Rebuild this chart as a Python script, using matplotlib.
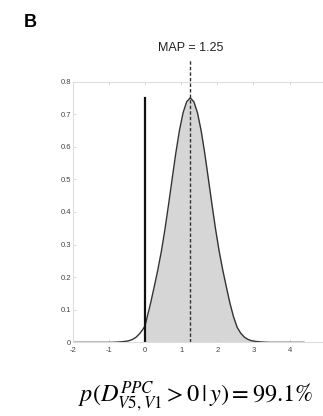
import numpy as np
import matplotlib
matplotlib.use('Agg')
import matplotlib.pyplot as plt

# posterior density
xs = [-2.0, -1.0, -0.95, -0.75, -0.55, -0.45, -0.35, -0.25, -0.15, -0.05, 0.0, 0.05, 0.15, 0.25,
      0.35, 0.45, 0.55, 0.65, 0.75, 0.85, 0.95, 1.05, 1.15, 1.25, 1.35, 1.45, 1.55, 1.65, 1.75,
      1.85, 1.95, 2.05, 2.15, 2.25, 2.35, 2.45, 2.55, 2.65, 2.75, 2.85, 2.95, 3.05, 3.25, 3.45, 4.4]
dens = [0.0, 0.0, 0.0, 0.001, 0.003, 0.005, 0.009, 0.016, 0.027, 0.042, 0.052, 0.075, 0.12, 0.17,
        0.222, 0.28, 0.348, 0.424, 0.503, 0.581, 0.65, 0.704, 0.738, 0.75, 0.738, 0.704, 0.65, 0.581, 0.503,
        0.424, 0.348, 0.28, 0.222, 0.17, 0.12, 0.078, 0.046, 0.028, 0.016, 0.009, 0.005, 0.003, 0.001, 0.0, 0.0]
map_val = 1.25
zero_line_top = 0.75
xticks = [-2, -1, 0, 1, 2, 3, 4]
yticks = [0, 0.1, 0.2, 0.3, 0.4, 0.5, 0.6, 0.7, 0.8]
ytick_labels = ['0', '0.1', '0.2', '0.3', '0.4', '0.5', '0.6', '0.7', '0.8']

plt.rcParams['font.family'] = ['Liberation Sans', 'DejaVu Sans']
plt.rcParams['mathtext.fontset'] = 'stix'
plt.rcParams['axes.unicode_minus'] = False

fig = plt.figure(figsize=(3.23, 4.16), dpi=100)
ax = fig.add_axes([0.226, 0.177, 0.782, 0.627])

x = np.array(xs); y = np.array(dens)
ax.fill_between(x, 0, y, where=x >= 0, color='#d6d6d6', linewidth=0)
ax.plot(x, y, color='#333333', lw=1.0)
ax.plot([0, 0], [0, zero_line_top], color='#111111', lw=1.6)
ax.plot([map_val, map_val], [0, 0.866], color='#333333', lw=1.0, ls=(0, (2.5, 1.5)), clip_on=False)
ax.text(map_val, 0.903, 'MAP = %.2f' % map_val, ha='center', va='center', fontsize=9, color='#222222')

ax.set_xlim(-2, 5)
ax.set_ylim(0, 0.8)
ax.set_xticks(xticks)
ax.set_yticks(yticks)
ax.set_yticklabels(ytick_labels)
for s in ax.spines.values():
    s.set_color('#dddddd')
    s.set_linewidth(0.8)
ax.tick_params(direction='in', length=2, width=0.5, color='#cccccc', labelsize=5.5, labelcolor='#444444',
               top=True, right=True)
ax.tick_params(axis='x', pad=3)
ax.tick_params(axis='y', pad=1.5)

fig.text(0.093, 0.947, 'B', fontsize=13, fontweight='bold', ha='center', va='center')
fig.text(0.605, 0.047, r'$p(D^{PPC}_{V5,V1} > 0\,|\,y) = 99.1\%$', fontsize=17.5, ha='center', va='center')

fig.savefig('out.png', dpi=100)
